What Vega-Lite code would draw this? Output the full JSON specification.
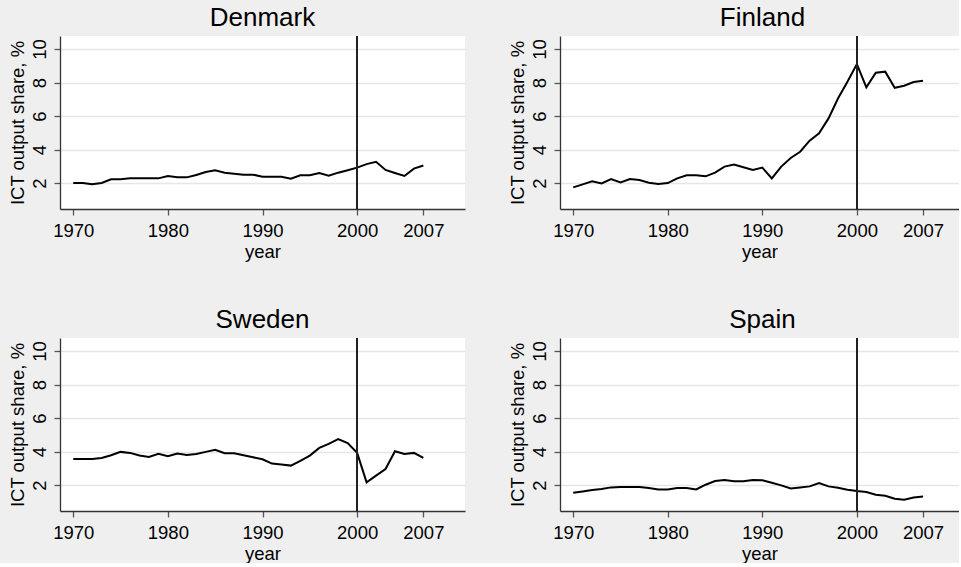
{
  "$schema": "https://vega.github.io/schema/vega-lite/v6.json",
  "background": "#efefef",
  "padding": {"left": 8, "top": 5, "right": 0, "bottom": 0},
  "bounds": "flush",
  "spacing": {"row": 129, "column": 95},
  "columns": 2,
  "data": {"values": [
    {"country":"Denmark","year":1970,"share":2.0},{"country":"Denmark","year":1971,"share":2.0},{"country":"Denmark","year":1972,"share":1.93},{"country":"Denmark","year":1973,"share":2.0},{"country":"Denmark","year":1974,"share":2.22},{"country":"Denmark","year":1975,"share":2.22},{"country":"Denmark","year":1976,"share":2.28},{"country":"Denmark","year":1977,"share":2.28},{"country":"Denmark","year":1978,"share":2.28},{"country":"Denmark","year":1979,"share":2.28},{"country":"Denmark","year":1980,"share":2.42},{"country":"Denmark","year":1981,"share":2.34},{"country":"Denmark","year":1982,"share":2.34},{"country":"Denmark","year":1983,"share":2.48},{"country":"Denmark","year":1984,"share":2.66},{"country":"Denmark","year":1985,"share":2.76},{"country":"Denmark","year":1986,"share":2.62},{"country":"Denmark","year":1987,"share":2.56},{"country":"Denmark","year":1988,"share":2.5},{"country":"Denmark","year":1989,"share":2.5},{"country":"Denmark","year":1990,"share":2.38},{"country":"Denmark","year":1991,"share":2.38},{"country":"Denmark","year":1992,"share":2.38},{"country":"Denmark","year":1993,"share":2.26},{"country":"Denmark","year":1994,"share":2.46},{"country":"Denmark","year":1995,"share":2.46},{"country":"Denmark","year":1996,"share":2.6},{"country":"Denmark","year":1997,"share":2.44},{"country":"Denmark","year":1998,"share":2.62},{"country":"Denmark","year":1999,"share":2.76},{"country":"Denmark","year":2000,"share":2.92},{"country":"Denmark","year":2001,"share":3.13},{"country":"Denmark","year":2002,"share":3.27},{"country":"Denmark","year":2003,"share":2.78},{"country":"Denmark","year":2004,"share":2.6},{"country":"Denmark","year":2005,"share":2.42},{"country":"Denmark","year":2006,"share":2.86},{"country":"Denmark","year":2007,"share":3.05},
    {"country":"Finland","year":1970,"share":1.74},{"country":"Finland","year":1971,"share":1.92},{"country":"Finland","year":1972,"share":2.1},{"country":"Finland","year":1973,"share":1.98},{"country":"Finland","year":1974,"share":2.24},{"country":"Finland","year":1975,"share":2.04},{"country":"Finland","year":1976,"share":2.24},{"country":"Finland","year":1977,"share":2.18},{"country":"Finland","year":1978,"share":2.02},{"country":"Finland","year":1979,"share":1.94},{"country":"Finland","year":1980,"share":2.0},{"country":"Finland","year":1981,"share":2.28},{"country":"Finland","year":1982,"share":2.46},{"country":"Finland","year":1983,"share":2.46},{"country":"Finland","year":1984,"share":2.4},{"country":"Finland","year":1985,"share":2.62},{"country":"Finland","year":1986,"share":2.98},{"country":"Finland","year":1987,"share":3.1},{"country":"Finland","year":1988,"share":2.94},{"country":"Finland","year":1989,"share":2.78},{"country":"Finland","year":1990,"share":2.92},{"country":"Finland","year":1991,"share":2.28},{"country":"Finland","year":1992,"share":2.98},{"country":"Finland","year":1993,"share":3.5},{"country":"Finland","year":1994,"share":3.87},{"country":"Finland","year":1995,"share":4.53},{"country":"Finland","year":1996,"share":4.97},{"country":"Finland","year":1997,"share":5.86},{"country":"Finland","year":1998,"share":7.05},{"country":"Finland","year":1999,"share":8.05},{"country":"Finland","year":2000,"share":9.1},{"country":"Finland","year":2001,"share":7.71},{"country":"Finland","year":2002,"share":8.59},{"country":"Finland","year":2003,"share":8.65},{"country":"Finland","year":2004,"share":7.69},{"country":"Finland","year":2005,"share":7.81},{"country":"Finland","year":2006,"share":8.03},{"country":"Finland","year":2007,"share":8.11},
    {"country":"Sweden","year":1970,"share":3.56},{"country":"Sweden","year":1971,"share":3.56},{"country":"Sweden","year":1972,"share":3.56},{"country":"Sweden","year":1973,"share":3.62},{"country":"Sweden","year":1974,"share":3.78},{"country":"Sweden","year":1975,"share":3.98},{"country":"Sweden","year":1976,"share":3.92},{"country":"Sweden","year":1977,"share":3.76},{"country":"Sweden","year":1978,"share":3.68},{"country":"Sweden","year":1979,"share":3.86},{"country":"Sweden","year":1980,"share":3.72},{"country":"Sweden","year":1981,"share":3.88},{"country":"Sweden","year":1982,"share":3.8},{"country":"Sweden","year":1983,"share":3.86},{"country":"Sweden","year":1984,"share":3.98},{"country":"Sweden","year":1985,"share":4.1},{"country":"Sweden","year":1986,"share":3.9},{"country":"Sweden","year":1987,"share":3.9},{"country":"Sweden","year":1988,"share":3.78},{"country":"Sweden","year":1989,"share":3.66},{"country":"Sweden","year":1990,"share":3.54},{"country":"Sweden","year":1991,"share":3.28},{"country":"Sweden","year":1992,"share":3.22},{"country":"Sweden","year":1993,"share":3.16},{"country":"Sweden","year":1994,"share":3.44},{"country":"Sweden","year":1995,"share":3.76},{"country":"Sweden","year":1996,"share":4.22},{"country":"Sweden","year":1997,"share":4.46},{"country":"Sweden","year":1998,"share":4.75},{"country":"Sweden","year":1999,"share":4.5},{"country":"Sweden","year":2000,"share":3.92},{"country":"Sweden","year":2001,"share":2.16},{"country":"Sweden","year":2002,"share":2.56},{"country":"Sweden","year":2003,"share":2.96},{"country":"Sweden","year":2004,"share":4.02},{"country":"Sweden","year":2005,"share":3.86},{"country":"Sweden","year":2006,"share":3.92},{"country":"Sweden","year":2007,"share":3.62},
    {"country":"Spain","year":1970,"share":1.54},{"country":"Spain","year":1971,"share":1.62},{"country":"Spain","year":1972,"share":1.7},{"country":"Spain","year":1973,"share":1.76},{"country":"Spain","year":1974,"share":1.86},{"country":"Spain","year":1975,"share":1.88},{"country":"Spain","year":1976,"share":1.88},{"country":"Spain","year":1977,"share":1.88},{"country":"Spain","year":1978,"share":1.82},{"country":"Spain","year":1979,"share":1.74},{"country":"Spain","year":1980,"share":1.74},{"country":"Spain","year":1981,"share":1.82},{"country":"Spain","year":1982,"share":1.82},{"country":"Spain","year":1983,"share":1.74},{"country":"Spain","year":1984,"share":2.02},{"country":"Spain","year":1985,"share":2.24},{"country":"Spain","year":1986,"share":2.3},{"country":"Spain","year":1987,"share":2.22},{"country":"Spain","year":1988,"share":2.22},{"country":"Spain","year":1989,"share":2.3},{"country":"Spain","year":1990,"share":2.28},{"country":"Spain","year":1991,"share":2.14},{"country":"Spain","year":1992,"share":1.98},{"country":"Spain","year":1993,"share":1.8},{"country":"Spain","year":1994,"share":1.86},{"country":"Spain","year":1995,"share":1.92},{"country":"Spain","year":1996,"share":2.12},{"country":"Spain","year":1997,"share":1.92},{"country":"Spain","year":1998,"share":1.84},{"country":"Spain","year":1999,"share":1.72},{"country":"Spain","year":2000,"share":1.64},{"country":"Spain","year":2001,"share":1.58},{"country":"Spain","year":2002,"share":1.42},{"country":"Spain","year":2003,"share":1.36},{"country":"Spain","year":2004,"share":1.18},{"country":"Spain","year":2005,"share":1.12},{"country":"Spain","year":2006,"share":1.26},{"country":"Spain","year":2007,"share":1.32}
  ]},
  "concat": [
    {"title": {"text": "Denmark"}, "width": 405, "height": 173,
     "transform": [{"filter": "datum.country === 'Denmark'"}],
     "layer": [
       {"mark": {"type": "line", "color": "black", "strokeWidth": 2},
        "encoding": {
          "x": {"field": "year", "type": "quantitative", "scale": {"domain": [1968.6, 2011.4], "nice": false, "zero": false}, "axis": {"title": "year", "values": [1970,1980,1990,2000,2007], "format": "d", "grid": false}},
          "y": {"field": "share", "type": "quantitative", "scale": {"domain": [0.45, 10.78], "nice": false, "zero": false}, "axis": {"title": "ICT output share, %", "values": [2,4,6,8,10], "labelAngle": -90, "grid": true}}}},
       {"mark": {"type": "rule", "color": "#222222", "strokeWidth": 1.5}, "encoding": {"x": {"datum": 2000}}}
     ]},
    {"title": {"text": "Finland", "dx": 3}, "width": 399, "height": 173,
     "transform": [{"filter": "datum.country === 'Finland'"}],
     "layer": [
       {"mark": {"type": "line", "color": "black", "strokeWidth": 2},
        "encoding": {
          "x": {"field": "year", "type": "quantitative", "scale": {"domain": [1968.6, 2010.8], "nice": false, "zero": false}, "axis": {"title": "year", "values": [1970,1980,1990,2000,2007], "format": "d", "grid": false}},
          "y": {"field": "share", "type": "quantitative", "scale": {"domain": [0.45, 10.78], "nice": false, "zero": false}, "axis": {"title": "ICT output share, %", "values": [2,4,6,8,10], "labelAngle": -90, "grid": true}}}},
       {"mark": {"type": "rule", "color": "#222222", "strokeWidth": 1.5}, "encoding": {"x": {"datum": 2000}}}
     ]},
    {"title": {"text": "Sweden"}, "width": 405, "height": 173,
     "transform": [{"filter": "datum.country === 'Sweden'"}],
     "layer": [
       {"mark": {"type": "line", "color": "black", "strokeWidth": 2},
        "encoding": {
          "x": {"field": "year", "type": "quantitative", "scale": {"domain": [1968.6, 2011.4], "nice": false, "zero": false}, "axis": {"title": "year", "values": [1970,1980,1990,2000,2007], "format": "d", "grid": false}},
          "y": {"field": "share", "type": "quantitative", "scale": {"domain": [0.45, 10.78], "nice": false, "zero": false}, "axis": {"title": "ICT output share, %", "values": [2,4,6,8,10], "labelAngle": -90, "grid": true}}}},
       {"mark": {"type": "rule", "color": "#222222", "strokeWidth": 1.5}, "encoding": {"x": {"datum": 2000}}}
     ]},
    {"title": {"text": "Spain", "dx": 3}, "width": 399, "height": 173,
     "transform": [{"filter": "datum.country === 'Spain'"}],
     "layer": [
       {"mark": {"type": "line", "color": "black", "strokeWidth": 2},
        "encoding": {
          "x": {"field": "year", "type": "quantitative", "scale": {"domain": [1968.6, 2010.8], "nice": false, "zero": false}, "axis": {"title": "year", "values": [1970,1980,1990,2000,2007], "format": "d", "grid": false}},
          "y": {"field": "share", "type": "quantitative", "scale": {"domain": [0.45, 10.78], "nice": false, "zero": false}, "axis": {"title": "ICT output share, %", "values": [2,4,6,8,10], "labelAngle": -90, "grid": true}}}},
       {"mark": {"type": "rule", "color": "#222222", "strokeWidth": 1.5}, "encoding": {"x": {"datum": 2000}}}
     ]}
  ],
  "config": {
    "font": "Liberation Sans",
    "view": {"fill": "white", "stroke": null},
    "title": {"fontSize": 26, "fontWeight": "normal", "color": "black", "offset": 4, "anchor": "middle"},
    "axis": {
      "labelFontSize": 18.5, "titleFontSize": 18.5, "titleFontWeight": "normal",
      "labelColor": "black", "titleColor": "black",
      "domainColor": "#333333", "domainWidth": 1.3,
      "tickColor": "#555555", "tickWidth": 1.3, "tickSize": 6,
      "gridColor": "#e6e6e6", "gridWidth": 1.5,
      "labelPadding": 5, "titlePadding": 3
    },
    "axisX": {"labelPadding": 6}
  }
}
